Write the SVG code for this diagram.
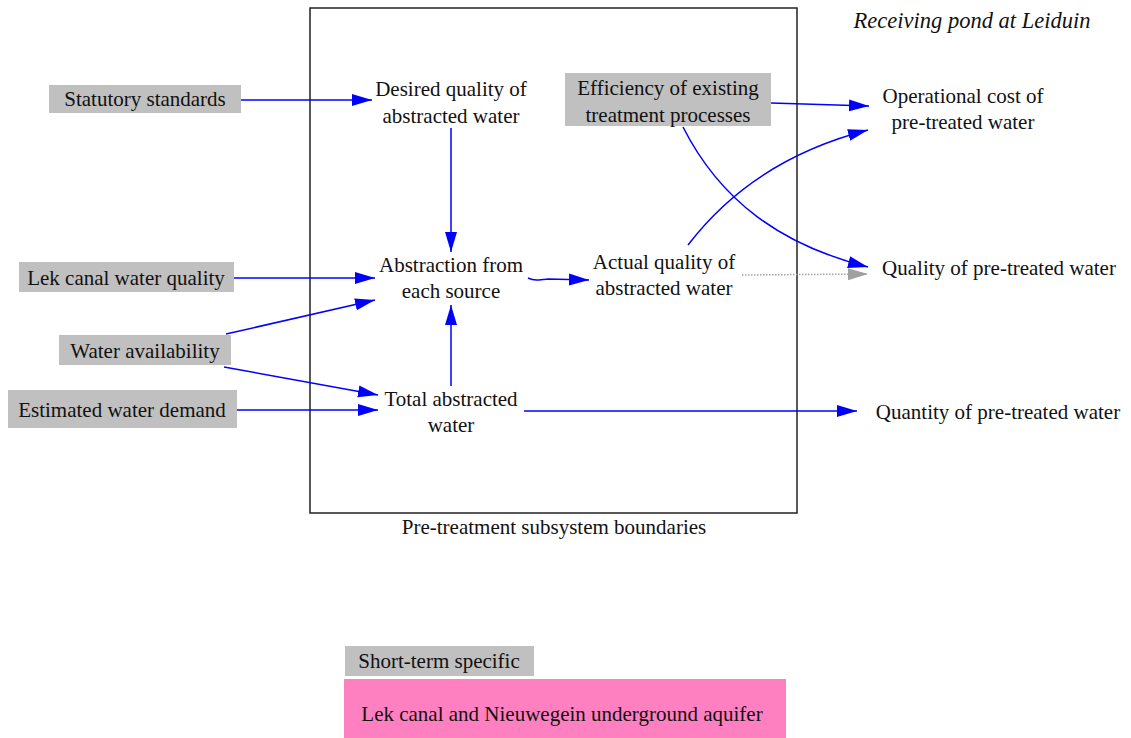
<svg xmlns="http://www.w3.org/2000/svg" width="1131" height="738" viewBox="0 0 1131 738">
  <style>
    text { font-family: "Liberation Serif", "Times New Roman", Times, "DejaVu Serif", serif; font-size: 21px; fill: #111; text-anchor: middle; }
    text.note { font-style: italic; font-size: 22.5px; }
    .ext { fill: #c0c0c0; }
    .link { fill: none; stroke: #0000ff; stroke-width: 1.5; marker-end: url(#arrow); }
    .dotted { fill: none; stroke: #a0a0a0; stroke-width: 1.5; stroke-dasharray: 1.5 1.5; marker-end: url(#arrowGray); }
  </style>
  <defs>
    <marker id="arrow" markerUnits="userSpaceOnUse" markerWidth="21" markerHeight="14" refX="20" refY="7" orient="auto" viewBox="0 0 21 14">
      <path d="M0,1 L20,7 L0,13 z" fill="#0000ff"/>
    </marker>
    <marker id="arrowGray" markerUnits="userSpaceOnUse" markerWidth="21" markerHeight="14" refX="20" refY="7" orient="auto" viewBox="0 0 21 14">
      <path d="M0,1 L20,7 L0,13 z" fill="#a0a0a0"/>
    </marker>
  </defs>

  <!-- subsystem boundary -->
  <g id="boundary">
    <rect x="310" y="8" width="487" height="505" fill="none" stroke="#222" stroke-width="1.5"/>
    <text x="554" y="534">Pre-treatment subsystem boundaries</text>
  </g>

  <g id="receiving-pond">
    <text class="note" x="972" y="28">Receiving pond at Leiduin</text>
  </g>

  <!-- connectors -->
  <g id="connectors">
    <path class="link" d="M241,100 L372,100"/>
    <path class="link" d="M451,128 L451,252"/>
    <path class="link" d="M234,278 L375,278"/>
    <path class="link" d="M226,334 L375,300"/>
    <path class="link" d="M224,367 L378,395"/>
    <path class="link" d="M237,410 L378,410"/>
    <path class="link" d="M451,386 L451,305"/>
    <path class="link" d="M528,278 C534,281 540,280 548,279 L589,280"/>
    <path class="link" d="M524,411 L857,411"/>
    <path class="dotted" d="M742,275 L868,274"/>
    <path class="link" d="M683,127 C720,200 780,245 868,267"/>
    <path class="link" d="M688,245 C730,190 790,150 868,130"/>
    <path class="link" d="M771,103 L869,106"/>
  </g>

  <!-- external drivers -->
  <g id="statutory-standards">
    <rect class="ext" x="49" y="85" width="192" height="28"/>
    <text x="145" y="106">Statutory standards</text>
  </g>
  <g id="lek-canal-water-quality">
    <rect class="ext" x="19" y="262" width="215" height="30"/>
    <text x="126" y="285">Lek canal water quality</text>
  </g>
  <g id="water-availability">
    <rect class="ext" x="59" y="335" width="172" height="30"/>
    <text x="145" y="358">Water availability</text>
  </g>
  <g id="estimated-water-demand">
    <rect class="ext" x="8" y="390" width="229" height="38"/>
    <text x="122" y="417">Estimated water demand</text>
  </g>
  <g id="efficiency">
    <rect class="ext" x="565" y="73" width="206" height="53"/>
    <text x="668" y="95">Efficiency of existing</text>
    <text x="668" y="122">treatment processes</text>
  </g>

  <!-- internal variables -->
  <g id="desired-quality">
    <text x="451" y="96">Desired quality of</text>
    <text x="451" y="123">abstracted water</text>
  </g>
  <g id="abstraction">
    <text x="451" y="272">Abstraction from</text>
    <text x="451" y="298">each source</text>
  </g>
  <g id="actual-quality">
    <text x="664" y="269">Actual quality of</text>
    <text x="664" y="295">abstracted water</text>
  </g>
  <g id="total-abstracted">
    <text x="451" y="406">Total abstracted</text>
    <text x="451" y="432">water</text>
  </g>

  <!-- outputs -->
  <g id="operational-cost">
    <text x="963" y="103">Operational cost of</text>
    <text x="963" y="129">pre-treated water</text>
  </g>
  <g id="quality-pretreated">
    <text x="999" y="275">Quality of pre-treated water</text>
  </g>
  <g id="quantity-pretreated">
    <text x="998" y="419">Quantity of pre-treated water</text>
  </g>

  <!-- legend -->
  <g id="legend-short-term">
    <rect class="ext" x="345" y="646" width="189" height="30"/>
    <text x="439" y="668">Short-term specific</text>
  </g>
  <g id="legend-sources">
    <rect x="344" y="679" width="442" height="59" fill="#ff80c0"/>
    <text x="562" y="721">Lek canal and Nieuwegein underground aquifer</text>
  </g>
</svg>
